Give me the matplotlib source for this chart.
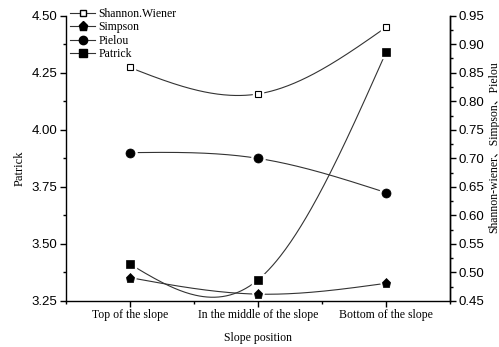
import numpy as np
import matplotlib
matplotlib.use("Agg")
import matplotlib.pyplot as plt
from matplotlib.ticker import MultipleLocator
from matplotlib.lines import Line2D

positions = ["Top of the slope", "In the middle of the slope", "Bottom of the slope"]
shannon = [4.273, 4.157, 4.449]   # drawn on the left scale
patrick = [3.412, 3.342, 4.339]   # left scale
pielou = [0.710, 0.700, 0.640]    # right scale
simpson = [0.491, 0.462, 0.481]   # right scale

SERIF = ["Liberation Serif", "Noto Sans CJK SC"]
SANS = "Liberation Sans"


def natural_spline(y, n=200):
    """Natural cubic spline through equally spaced points x = 0..len(y)-1."""
    y = np.asarray(y, float)
    k = len(y)
    A = np.zeros((k, k))
    r = np.zeros(k)
    A[0, 0] = A[-1, -1] = 1.0
    for i in range(1, k - 1):
        A[i, i - 1:i + 2] = [1, 4, 1]
        r[i] = 6 * (y[i - 1] - 2 * y[i] + y[i + 1])
    M = np.linalg.solve(A, r)
    xs = np.linspace(0, k - 1, n)
    idx = np.clip(np.floor(xs).astype(int), 0, k - 2)
    t = xs - idx
    ys = (M[idx] * (1 - t) ** 3 / 6 + M[idx + 1] * t ** 3 / 6
          + (y[idx] - M[idx] / 6) * (1 - t) + (y[idx + 1] - M[idx + 1] / 6) * t)
    return xs, ys


fig = plt.figure(figsize=(4.99, 3.47), dpi=100)
ax = fig.add_axes([0.1317, 0.1326, 0.9018 - 0.1317, 0.9548 - 0.1326])
ax2 = ax.twinx()

x = np.arange(len(positions))
line_kw = dict(color="#333333", lw=0.8, zorder=1)


def draw(axis, vals, marker, ms, face):
    xs, ys = natural_spline(vals)
    axis.plot(xs, ys, **line_kw)
    axis.plot(x, vals, ls="none", marker=marker, ms=ms + 3, mfc="white",
              mec="white", zorder=2)
    axis.plot(x, vals, ls="none", marker=marker, ms=ms, mfc=face,
              mec="black", mew=0.8 if face == "white" else 0.5, zorder=3)


draw(ax, shannon, "s", 4.5, "white")
draw(ax, patrick, "s", 5.5, "black")
draw(ax2, pielou, "o", 6.5, "black")
draw(ax2, simpson, "p", 6.5, "black")

ax.set_xlim(-0.5, 2.5)
ax.set_ylim(3.25, 4.50)
ax2.set_ylim(0.45, 0.95)

ax.set_xticks(x)
ax.set_xticklabels(positions, family=SERIF, fontsize=8.5)
ax.xaxis.set_minor_locator(MultipleLocator(0.5))
ax.yaxis.set_minor_locator(MultipleLocator(0.125))
ax2.yaxis.set_minor_locator(MultipleLocator(0.025))
left_ticks = np.arange(3.25, 4.51, 0.25)
right_ticks = np.arange(0.45, 0.951, 0.05)
ax.set_yticks(left_ticks)
ax.set_yticklabels([f"{v:.2f}" for v in left_ticks], family=SANS, fontsize=9.5)
ax2.set_yticks(right_ticks)
ax2.set_yticklabels([f"{v:.2f}" for v in right_ticks], family=SANS, fontsize=9.5)

for a in (ax, ax2):
    a.spines["top"].set_visible(False)
    for s in a.spines.values():
        s.set_linewidth(1.0)
    a.tick_params(which="major", direction="out", length=4, width=1.0, pad=2)
    a.tick_params(which="minor", direction="out", length=2.5, width=1.0)
ax2.spines["left"].set_visible(False)
ax2.spines["bottom"].set_visible(False)

ax.set_xlabel("Slope position", family=SERIF, fontsize=8.5, labelpad=8)
ax.set_ylabel("Patrick", family=SERIF, fontsize=9, ha="center", va="center")
ax.yaxis.set_label_coords(-0.12, 0.466)
ax2.set_ylabel("Shannon-wiener、Simpson、Pielou", family=SERIF, fontsize=8.5,
               rotation=90, ha="center", va="center")
ax2.yaxis.set_label_coords(1.115, 0.54)

handles = [
    Line2D([], [], color="#333333", lw=0.8, marker="s", ms=4.5, mfc="white", mec="black"),
    Line2D([], [], color="#333333", lw=0.8, marker="p", ms=6.5, mfc="black", mec="black"),
    Line2D([], [], color="#333333", lw=0.8, marker="o", ms=6, mfc="black", mec="black"),
    Line2D([], [], color="#333333", lw=0.8, marker="s", ms=5.5, mfc="black", mec="black"),
]
labels = ["Shannon.Wiener", "Simpson", "Pielou", "Patrick"]
ax2.legend(handles, labels, loc="upper left", bbox_to_anchor=(0.0, 1.044),
           frameon=False, prop={"family": SERIF, "size": 8.5},
           handlelength=2.1, handletextpad=0.25, labelspacing=0.13,
           borderaxespad=0.0)

fig.savefig("out.png", dpi=100)
